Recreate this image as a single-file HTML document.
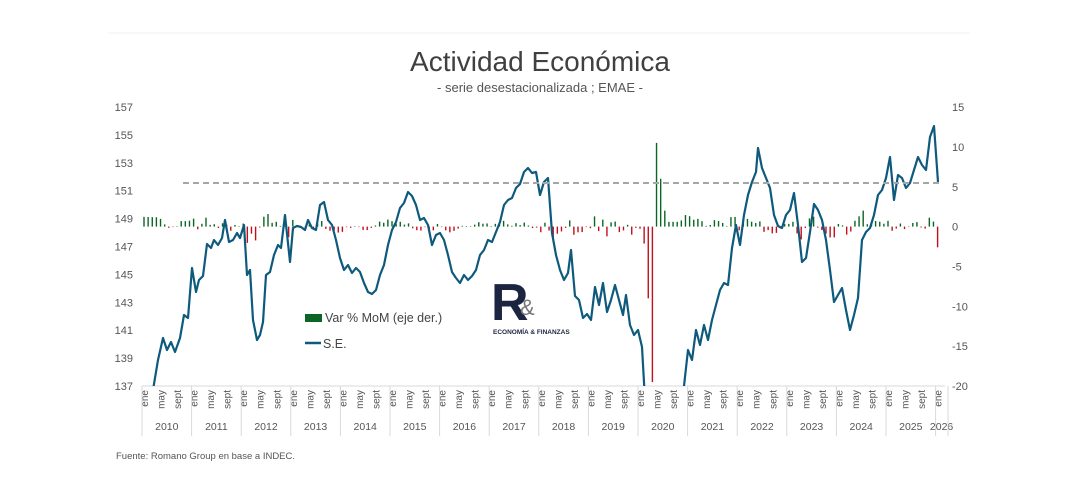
<!DOCTYPE html>
<html><head><meta charset="utf-8"><style>
body{margin:0;background:#fff;width:1080px;height:497px;overflow:hidden;font-family:"Liberation Sans",sans-serif}
svg text{font-family:"Liberation Sans",sans-serif}
</style></head><body>
<svg id="s" width="1080" height="497" xmlns="http://www.w3.org/2000/svg">
<line x1="108" y1="33" x2="970" y2="33" stroke="#f0f0f0"/>
<text x="540" y="71" text-anchor="middle" font-size="28" fill="#404040">Actividad Económica</text>
<text x="540" y="92" text-anchor="middle" font-size="13" fill="#555">- serie desestacionalizada ; EMAE -</text>
<g id="g"></g>
<line x1="183" y1="183" x2="943" y2="183" stroke="#a6a6a6" stroke-width="2" stroke-dasharray="6,4"/>
<rect x="305" y="314" width="17" height="8" fill="#0b6623"/>
<text x="325" y="322" font-size="12.5" fill="#444">Var % MoM (eje der.)</text>
<line x1="305" y1="343" x2="321" y2="343" stroke="#0e5a7d" stroke-width="2.5"/>
<text x="323" y="348" font-size="12.5" fill="#444">S.E.</text>
<text x="491" y="320" font-size="52" font-weight="bold" fill="#1b2440">R</text>
<text x="520" y="315" font-size="22" fill="#777">&amp;</text>
<text x="493" y="334" font-size="6.5" font-weight="bold" fill="#1b2440">ECONOMÍA &amp; FINANZAS</text>
<text x="116" y="459" font-size="9.5" fill="#555">Fuente: Romano Group en base a INDEC.</text>
</svg>
<script>
const g=document.getElementById('g');let h='';
const X0=142,YW=49.6,MW=YW/12;
const yl=v=>386-(v-137)*13.95, yr=v=>226.6-v*7.97;
for(let v=137;v<=157;v+=2)h+=`<text x="133" y="${yl(v)+4}" text-anchor="end" font-size="11" fill="#555">${v}</text>`;
for(let v=-20;v<=15;v+=5)h+=`<text x="952" y="${yr(v)+4}" font-size="11" fill="#555">${v}</text>`;
h+=`<line x1="${X0}" y1="386" x2="945" y2="386" stroke="#d9d9d9"/>`;
for(let y=0;y<=16;y++){let x=X0+y*YW;
h+=`<line x1="${x}" y1="386" x2="${x}" y2="436" stroke="#d9d9d9"/>`;
let ms=y<16?[['ene',0],['may',4],['sept',8]]:[['ene',0]];
ms.forEach(([t,m])=>{let mx=x+m*MW+6;h+=`<text transform="translate(${mx},390) rotate(-90)" text-anchor="end" font-size="10" fill="#555">${t}</text>`});
h+=`<text x="${y<16?x+YW/2:x+6}" y="430" text-anchor="middle" font-size="10.5" fill="#555">${2010+y}</text>`;}
h+=`<line x1="948" y1="386" x2="948" y2="436" stroke="#d9d9d9"/>`;
const L=[[153,390],[158,360],[163,338],[167,350],[171,342],[175,352],[180,338],[184,315],[188,318],[192,268],[196,292],[199,280],[203,276],[207,244],[211,248],[214,240],[218,245],[222,238],[225,220],[229,242],[233,240],[237,233],[240,238],[244,225],[247,275],[250,270],[253,320],[257,340],[260,335],[263,322],[266,275],[270,272],[274,255],[278,245],[281,248],[285,215],[290,262],[293,228],[297,226],[301,227],[305,230],[308,220],[312,228],[316,230],[320,205],[324,202],[328,220],[332,225],[336,240],[340,258],[344,270],[348,265],[352,273],[356,268],[360,272],[364,283],[368,292],[372,294],[376,290],[380,275],[384,265],[388,245],[392,230],[396,222],[400,208],[404,203],[408,192],[412,196],[416,205],[420,220],[424,218],[428,225],[432,245],[436,235],[440,233],[444,240],[448,255],[452,272],[456,278],[460,283],[464,275],[468,280],[472,276],[476,270],[480,255],[484,250],[488,240],[492,242],[496,232],[500,222],[504,205],[508,200],[512,198],[516,188],[520,184],[524,172],[528,168],[532,173],[536,172],[540,195],[544,182],[548,178],[552,233],[556,255],[560,270],[564,280],[568,273],[571,250],[575,296],[579,300],[583,318],[587,314],[591,320],[595,287],[599,305],[603,283],[607,312],[611,300],[615,285],[619,300],[623,315],[626,295],[630,325],[634,335],[638,330],[642,347],[645,400],[680,400],[684,386],[688,350],[692,360],[696,330],[700,345],[704,325],[708,340],[712,320],[716,305],[720,290],[724,283],[728,285],[732,248],[736,225],[740,245],[744,215],[748,195],[752,182],[756,172],[758,148],[762,168],[766,178],[770,188],[774,215],[778,226],[782,228],[786,215],[790,210],[794,193],[798,225],[802,262],[806,258],[810,232],[814,204],[818,210],[822,220],[826,240],[830,270],[834,302],[838,295],[842,288],[846,310],[850,330],[854,315],[858,298],[862,240],[866,232],[870,228],[874,215],[878,195],[882,190],[886,178],[890,157],[894,200],[898,175],[902,178],[906,188],[910,183],[914,170],[918,157],[922,165],[926,170],[930,137],[934,126],[938,182]];
function ly(x){for(let i=1;i<L.length;i++)if(L[i][0]>=x){let a=L[i-1],b=L[i];return a[1]+(b[1]-a[1])*(x-a[0])/(b[0]-a[0]);}return 182}
const ov={122:-9,123:-19.5,124:10.5,125:6,126:2};
for(let i=0;i<193;i++){let x=X0+i*MW+2;let v;
if(ov[i]!==undefined)v=ov[i];else{let a=137+(386-ly(x-MW))/13.95,b=137+(386-ly(x))/13.95;v=(b-a)/a*100*0.9;v=Math.max(-2.6,Math.min(2.6,v));if(i>=127&&i<136)v=Math.abs(v)*0.8+0.6;}
if(i==192)v=-2.6;
let y0=yr(0),y1=yr(v);h+=`<rect x="${x-0.7}" y="${Math.min(y0,y1)}" width="1.4" height="${Math.max(0.5,Math.abs(y1-y0))}" fill="${v>=0?'#0b6623':'#c0101b'}"/>`;}
h+=`<defs><clipPath id="c"><rect x="140" y="100" width="810" height="286"/></clipPath></defs>`;
h+=`<polyline clip-path="url(#c)" fill="none" stroke="#0e5a7d" stroke-width="2.2" stroke-linejoin="round" points="${L.map(p=>p.join(',')).join(' ')}"/>`;
g.innerHTML=h;
</script>
</body></html>
